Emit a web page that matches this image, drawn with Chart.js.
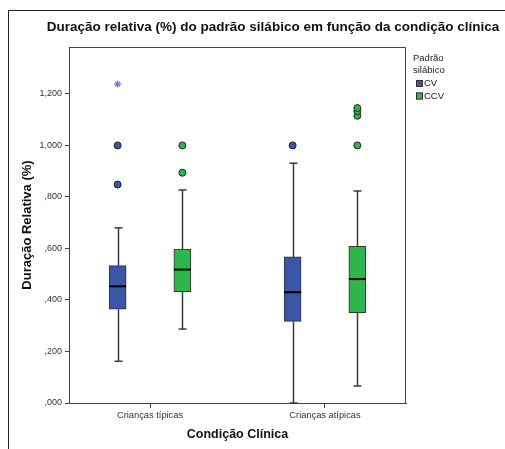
<!DOCTYPE html>
<html>
<head>
<meta charset="utf-8">
<script src="https://cdn.jsdelivr.net/npm/chart.js@4/dist/chart.umd.min.js"></script>
<style>
  html, body { margin: 0; padding: 0; background: #fff; }
  #wrap { width: 505px; height: 449px; position: relative; }
</style>
</head>
<body>
<div id="wrap"><canvas id="chart" width="505" height="449"></canvas></div>
<script>
// ── DATA ──────────────────────────────────────────────────────────────────────
const categories = ['Crianças típicas', 'Crianças atípicas'];
const seriesNames = ['CV', 'CCV'];

// one value per category
const cvLow      = [0.162, 0.000];
const cvQ1       = [0.364, 0.317];
const cvMedian   = [0.453, 0.430];
const cvQ3       = [0.533, 0.567];
const cvHigh     = [0.680, 0.931];
const cvOutliers = [[0.848, 1.000], [1.000]];
const cvExtremes = [[1.238], []];

const ccvLow      = [0.287, 0.066];
const ccvQ1       = [0.432, 0.351];
const ccvMedian   = [0.518, 0.481];
const ccvQ3       = [0.598, 0.608];
const ccvHigh     = [0.827, 0.823];
const ccvOutliers = [[0.894, 1.000], [1.000, 1.115, 1.133, 1.145]];
const ccvExtremes = [[], []];

const yTicks = [0, 0.2, 0.4, 0.6, 0.8, 1.0, 1.2];

// ── STYLE ─────────────────────────────────────────────────────────────────────
const FONT = "'Liberation Sans', Arial, sans-serif";
const COLORS = { CV: '#3b55a7', CCV: '#2cb64c' };
const OFFSET = 0.185;      // box offset from category centre (x units)
const BOX_W = 17;
const CAP_W = 8;

const series = [
  { name: 'CV',  low: cvLow,  q1: cvQ1,  med: cvMedian,  q3: cvQ3,  high: cvHigh,  out: cvOutliers,  ext: cvExtremes,  off: -OFFSET },
  { name: 'CCV', low: ccvLow, q1: ccvQ1, med: ccvMedian, q3: ccvQ3, high: ccvHigh, out: ccvOutliers, ext: ccvExtremes, off: OFFSET }
];

const datasets = [];
series.forEach(s => {
  datasets.push({
    type: 'bar',
    label: s.name,
    data: categories.map((c, i) => ({ x: i + s.off, y: [s.q1[i], s.q3[i]] })),
    backgroundColor: COLORS[s.name],
    borderColor: '#333',
    borderWidth: 1,
    borderSkipped: false,
    barThickness: BOX_W,
    grouped: false
  });
});
series.forEach(s => {
  const pts = [];
  s.out.forEach((arr, i) => arr.forEach(v => pts.push({ x: i + s.off, y: v })));
  datasets.push({
    type: 'scatter',
    label: s.name + ' outliers',
    data: pts,
    pointStyle: 'circle',
    pointRadius: 3.5,
    pointBackgroundColor: COLORS[s.name],
    pointBorderColor: '#222',
    pointBorderWidth: 1
  });
  const ext = [];
  s.ext.forEach((arr, i) => arr.forEach(v => ext.push({ x: i + s.off, y: v })));
  datasets.push({
    type: 'scatter',
    label: s.name + ' extremes',
    data: ext,
    pointStyle: 'star',
    pointRadius: 3.5,
    pointBorderColor: '#6c7fd2',
    pointBorderWidth: 1.2
  });
});

// whiskers under the boxes, medians + frame on top
const boxPlotExtras = {
  id: 'boxPlotExtras',
  beforeDraw(chart) {
    const ctx = chart.ctx;
    ctx.save();
    ctx.strokeStyle = '#222';
    ctx.lineWidth = 1;
    ctx.beginPath();
    ctx.moveTo(8.5, 449); ctx.lineTo(8.5, 10.5); ctx.lineTo(505, 10.5);
    ctx.stroke();
    ctx.fillStyle = '#111';
    ctx.font = `bold 13.5px ${FONT}`;
    ctx.textAlign = 'center';
    ctx.textBaseline = 'middle';
    ctx.fillText('Duração relativa (%) do padrão silábico em função da condição clínica', 273, 27);
    ctx.restore();
  },
  beforeDatasetsDraw(chart) {
    const { ctx, scales: { x, y } } = chart;
    ctx.save();
    ctx.strokeStyle = '#3a3a3a';
    ctx.lineWidth = 1.5;
    series.forEach(s => {
      categories.forEach((c, i) => {
        const px = Math.round(x.getPixelForValue(i + s.off)) + 0.5;
        const seg = (a, b) => {
          ctx.beginPath();
          ctx.moveTo(px, y.getPixelForValue(a));
          ctx.lineTo(px, y.getPixelForValue(b));
          ctx.stroke();
        };
        seg(s.q3[i], s.high[i]);
        seg(s.q1[i], s.low[i]);
        [s.high[i], s.low[i]].forEach(v => {
          const py = y.getPixelForValue(v);
          ctx.beginPath();
          ctx.moveTo(px - CAP_W / 2, py);
          ctx.lineTo(px + CAP_W / 2, py);
          ctx.stroke();
        });
      });
    });
    ctx.restore();
  },
  afterDatasetsDraw(chart) {
    const { ctx, chartArea: a, scales: { x, y } } = chart;
    ctx.save();
    ctx.strokeStyle = '#000';
    ctx.lineWidth = 2;
    series.forEach(s => {
      categories.forEach((c, i) => {
        const px = x.getPixelForValue(i + s.off);
        const py = y.getPixelForValue(s.med[i]);
        ctx.beginPath();
        ctx.moveTo(px - BOX_W / 2, py);
        ctx.lineTo(px + BOX_W / 2, py);
        ctx.stroke();
      });
    });
    // top + right edge of the plot frame
    ctx.strokeStyle = '#444';
    ctx.lineWidth = 1;
    ctx.beginPath();
    ctx.moveTo(a.left, a.top + 0.5);
    ctx.lineTo(a.right - 0.5, a.top + 0.5);
    ctx.lineTo(a.right - 0.5, a.bottom);
    ctx.stroke();

    // legend
    ctx.fillStyle = '#222';
    ctx.font = `9.5px ${FONT}`;
    ctx.textAlign = 'left';
    ctx.textBaseline = 'middle';
    ctx.fillText('Padrão', 413, 58);
    ctx.fillText('silábico', 413, 70);
    seriesNames.forEach((n, k) => {
      const ty = 83.5 + k * 12.5;
      ctx.fillStyle = COLORS[n];
      ctx.fillRect(416, ty - 3.5, 7, 7);
      ctx.strokeStyle = '#333';
      ctx.strokeRect(416.5, ty - 3, 6, 6);
      ctx.fillStyle = '#222';
      ctx.fillText(n, 424, ty);
    });
    ctx.restore();
  }
};

new Chart(document.getElementById('chart'), {
  type: 'bar',
  data: { datasets },
  plugins: [boxPlotExtras],
  options: {
    responsive: false,
    animation: false,
    devicePixelRatio: 1,
    layout: { padding: { top: 47, right: 99, left: 0, bottom: 0 } },
    plugins: { legend: { display: false }, tooltip: { enabled: false } },
    scales: {
      x: {
        type: 'linear',
        offset: false,
        min: -0.463,
        max: 1.463,
        afterBuildTicks: s => { s.ticks = categories.map((c, i) => ({ value: i })); },
        afterFit: s => { s.height = 46; },
        ticks: {
          callback: v => categories[v] ?? '',
          font: { family: FONT, size: 9.3 },
          color: '#333',
          padding: 2,
          maxRotation: 0
        },
        grid: { offset: false, drawOnChartArea: false, tickLength: 5, color: '#444' },
        border: { color: '#444', width: 1 },
        title: {
          display: true,
          text: 'Condição Clínica',
          font: { family: FONT, size: 12.5, weight: 'bold' },
          color: '#111',
          padding: { top: 0, bottom: 7 }
        }
      },
      y: {
        min: 0,
        max: 1.382,
        afterBuildTicks: s => { s.ticks = yTicks.map(v => ({ value: v })); },
        afterFit: s => { s.width = 69; },
        ticks: {
          callback: v => v.toFixed(3).replace('.', ',').replace(/^0/, ''),
          font: { family: FONT, size: 9 },
          color: '#333',
          padding: 3
        },
        grid: { drawOnChartArea: false, tickLength: 4, color: '#444' },
        border: { color: '#444', width: 1 },
        title: {
          display: true,
          text: 'Duração Relativa (%)',
          font: { family: FONT, size: 13, weight: 'bold' },
          color: '#111',
          padding: { top: 20, bottom: 0 }
        }
      }
    }
  }
});
</script>
</body>
</html>
